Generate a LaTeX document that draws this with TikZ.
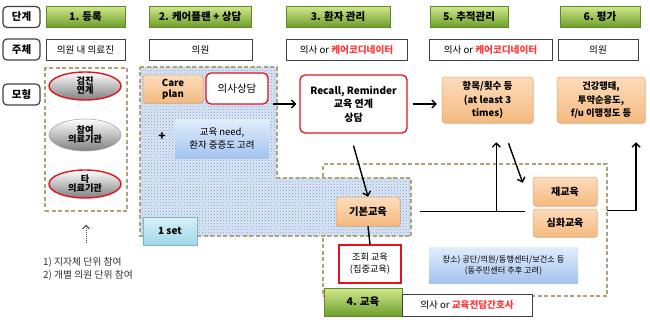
\documentclass[tikz,border=0pt]{standalone}
\usepackage{fontspec}
\setmainfont{Noto Sans CJK KR}
\usetikzlibrary{arrows.meta,patterns,shadows,shapes.geometric}
\definecolor{labgray}{HTML}{404040}
\definecolor{greentop}{HTML}{D2E88E}
\definecolor{greenbot}{HTML}{6E9F2A}
\definecolor{greenbd}{HTML}{5E8A2A}
\definecolor{peachtop}{HTML}{FCDCBC}
\definecolor{peachbot}{HTML}{F5B97F}
\definecolor{peachbd}{HTML}{E0A570}
\definecolor{myred}{HTML}{E0141E}
\definecolor{redtxt}{HTML}{FF3838}
\definecolor{bluetop}{HTML}{E2EDFB}
\definecolor{bluebot}{HTML}{A3C3F0}
\definecolor{settop}{HTML}{D8F2F8}
\definecolor{setbot}{HTML}{9FD7E8}
\definecolor{setbd}{HTML}{7FB5C6}
\definecolor{olivedash}{HTML}{ADA47A}
\definecolor{hatchbase}{HTML}{DCE7F5}
\definecolor{hatchdot}{HTML}{7C9FD4}
\begin{document}
\begin{tikzpicture}[x=1pt,y=-1pt,
  lab/.style={draw=labgray, line width=1.2pt, rounded corners=4pt, fill=white,
    font=\bfseries\fontsize{10.5}{11}\selectfont, minimum width=37pt, minimum height=21pt, inner sep=0pt},
  hdr/.style={draw=greenbd, line width=0.6pt, top color=greentop, bottom color=greenbot,
    font=\bfseries\fontsize{10.5}{11}\selectfont, minimum height=21pt, inner sep=0pt},
  actor/.style={draw=black!75, line width=0.9pt, fill=white,
    font=\fontsize{9.6}{11}\selectfont, minimum height=21pt, inner sep=0pt},
  peach/.style={draw=peachbd, line width=0.5pt, top color=peachtop, bottom color=peachbot,
    rounded corners=3pt, align=center, inner sep=0pt,
    drop shadow={opacity=0.25, shadow xshift=1pt, shadow yshift=-1.2pt}},
  redbox/.style={draw=myred, line width=1.3pt, fill=white, rounded corners=5pt,
    align=center, inner sep=0pt},
  bluebox/.style={top color=bluetop, bottom color=bluebot, align=center, inner sep=0pt},
  oval/.style={ellipse, top color=white, bottom color=black!50, draw=myred, line width=1.4pt,
    minimum width=72pt, minimum height=28pt, inner sep=0pt, align=center,
    font=\bfseries\fontsize{9.2}{10}\selectfont},
  dashbox/.style={draw=olivedash, line width=1.4pt, dash pattern=on 4pt off 2.5pt},
  arr/.style={line width=1.4pt, -{Straight Barb[length=4pt,width=8pt]}},
  lnk/.style={line width=1.4pt}
]
\useasboundingbox (0,0) rectangle (650,324);

% row labels
\node[lab] (lstep) at (21.5,17) {단계};
\node[lab] (lactor) at (21.5,49.5) {주체};
\node[lab] (lmodel) at (21.5,94.5) {모형};

% headers
\node[hdr, minimum width=79pt] (h1) at (85.5,16.5) {1. 등록};
\node[hdr, minimum width=102pt] (h2) at (200,16.5) {2. 케어플랜 + 상담};
\node[hdr, minimum width=104pt] (h3) at (338,16.5) {3. 환자 관리};
\node[hdr, minimum width=78pt] (h5) at (469,16.5) {5. 추적관리};
\node[hdr, minimum width=80pt] (h6) at (600,16.5) {6. 평가};

% actors
\node[actor, minimum width=79pt] (a1) at (85.5,49.5) {의원 내 의료진};
\node[actor, minimum width=103pt] (a2) at (200.5,49.5) {의원};
\node[actor, minimum width=121pt] (a3) at (346.5,49.5) {의사 or \textcolor{redtxt}{\bfseries 케어코디네이터}};
\node[actor, minimum width=123pt] (a5) at (490.5,49.5) {의사 or \textcolor{redtxt}{\bfseries 케어코디네이터}};
\node[actor, minimum width=80pt] (a6) at (598,49.5) {의원};

% stage 1 box
\node[dashbox, minimum width=82pt, minimum height=143pt, inner sep=0pt] (box1) at (86,139.5) {};
\node[oval] (e1) at (85,86) {검진\\[-1pt]연계};
\node[oval, draw=black!35, line width=0.6pt, minimum height=32pt] (e2) at (85,135) {참여\\[-1pt]의료기관};
\node[oval] (e3) at (85,184) {타\\[-1pt]의료기관};
\node[anchor=north west, align=left, text=black!80, font=\fontsize{9.8}{13}\selectfont, inner sep=0pt] (notes) at (43,257) {1) 지자체 단위 참여\\2) 개별 의원 단위 참여};
\draw[black!70, line width=1pt, densely dotted, -{Straight Barb[length=3.5pt,width=7pt]}] ([yshift=-31pt]box1.south) -- ([yshift=-13pt]box1.south);

% education dashed box (behind)
\node[dashbox, minimum width=284pt, minimum height=132pt, inner sep=0pt] (edubox) at (465,230) {};

% hatched 1-set region
\path[fill=hatchbase] (140,67) -- (277,67) -- (277,178) -- (411,178) -- (411,236) -- (140,236) -- cycle;
\path[pattern=crosshatch dots, pattern color=hatchdot] (140,67) -- (277,67) -- (277,178) -- (411,178) -- (411,236) -- (140,236) -- cycle;
\draw[dashbox] (140,67) -- (277,67) -- (277,178) -- (411,178) -- (411,236) -- (140,236) -- cycle;

% stage 2
\node[peach, minimum width=60pt, minimum height=28pt, font=\bfseries\fontsize{9.6}{11}\selectfont] (care) at (173,89) {Care\\plan};
\node[redbox, minimum width=62pt, minimum height=31pt, font=\fontsize{10.5}{12}\selectfont] (counsel) at (237,88.5) {의사상담};
\node[bluebox, minimum width=94pt, minimum height=39pt, font=\fontsize{9.5}{12.5}\selectfont] (need) at (222,138.5) {교육 need,\\환자 중증도 고려};
\node[font=\bfseries\fontsize{12}{12}\selectfont, inner sep=0pt] (plus) at (162,137) {+};
\node[draw=setbd, line width=0.5pt, top color=settop, bottom color=setbot, minimum width=54pt, minimum height=28pt, inner sep=0pt,
  font=\bfseries\fontsize{10}{11}\selectfont, drop shadow={opacity=0.3, shadow xshift=1pt, shadow yshift=-1.2pt}] (set) at (170,231) {1 set};

% stage 3
\node[redbox, minimum width=107pt, minimum height=58pt, font=\bfseries\fontsize{10}{13.5}\selectfont] (recall) at (353.5,104) {Recall, Reminder\\교육 연계\\상담};

% stage 5, 6
\node[peach, minimum width=91pt, minimum height=46pt, font=\bfseries\fontsize{9.6}{13.5}\selectfont] (item) at (487.5,100) {항목/횟수 등\\(at least 3\\times)};
\node[peach, minimum width=88pt, minimum height=46pt, font=\bfseries\fontsize{9.3}{13.5}\selectfont] (eval) at (601,100) {건강행태,\\투약순응도,\\f/u 이행정도 등};

% stage 4
\node[peach, minimum width=64pt, minimum height=29pt, font=\bfseries\fontsize{10.3}{11}\selectfont] (basic) at (368,211.5) {기본교육};
\node[draw=myred, line width=1.3pt, fill=white, minimum width=62pt, minimum height=38pt, inner sep=0pt, align=center,
  font=\fontsize{9.2}{12}\selectfont] (lookup) at (370,264) {조회 교육\\(집중교육)};
\node[peach, minimum width=64pt, minimum height=29pt, font=\bfseries\fontsize{10}{11}\selectfont] (re) at (565,191.5) {재교육};
\node[peach, minimum width=64pt, minimum height=28pt, font=\bfseries\fontsize{10}{11}\selectfont] (deep) at (565,223) {심화교육};
\node[bluebox, minimum width=149pt, minimum height=36pt, font=\fontsize{8.2}{11}\selectfont] (place) at (503.5,265) {장소) 공단/의원/동행센터/보건소 등\\(동주민센터 추후 고려)};
\node[hdr, minimum width=78pt, minimum height=28pt] (h4) at (363,302) {4. 교육};
\node[actor, minimum width=130pt, minimum height=22pt] (a4) at (467,305) {의사 or \textcolor{redtxt}{\bfseries 교육전담간호사}};

% connectors
\draw[arr] ([xshift=4pt]counsel.east |- recall.west) -- ([xshift=-3pt]recall.west);
\draw[arr] ([xshift=5pt]recall.east) -- ([xshift=-5pt]recall.east -| item.west);
\draw[arr] ([yshift=-12pt]recall.south) -- (basic.north);
\draw[lnk] (basic.south) -- (lookup.north);
\coordinate (j1) at ([xshift=96pt]basic.east);
\draw[lnk] ([xshift=20pt]basic.east) -- ([xshift=-8pt]basic.east -| re.west);
\draw[arr] (j1) -- ([yshift=-19pt]item.south -| j1);
\draw[arr] ([xshift=21pt,yshift=-20pt]item.south) -- ([xshift=-10pt,yshift=-6pt]re.north west);
\draw[arr] ([xshift=10pt,yshift=-4pt]re.south east) -| ([xshift=35pt,yshift=-19pt]eval.south);
\end{tikzpicture}
\end{document}
